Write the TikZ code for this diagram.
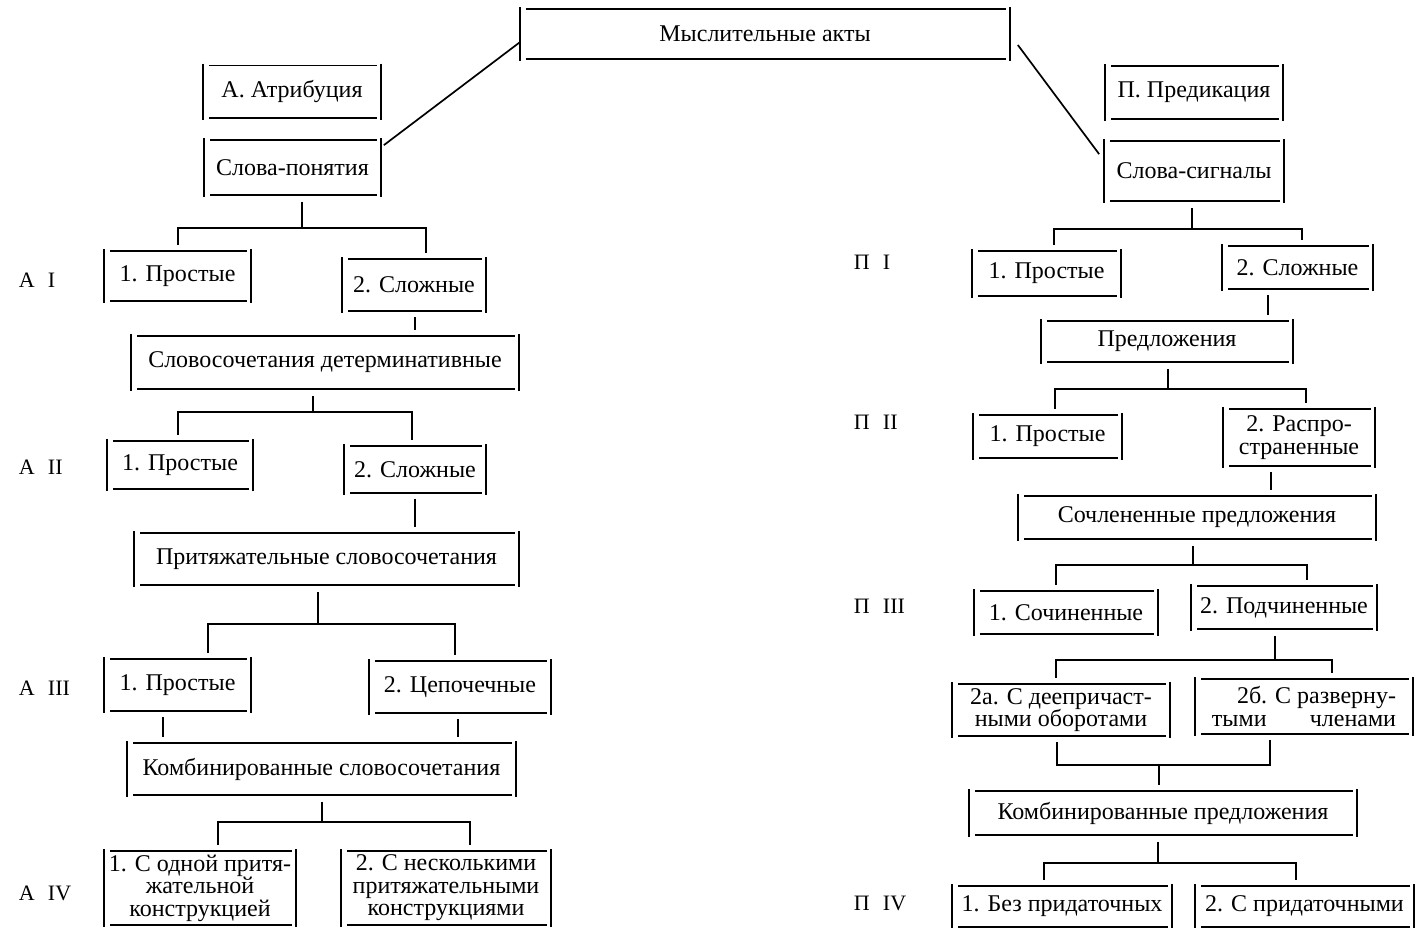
\documentclass[tikz,border=0pt]{standalone}
\usepackage{fontspec}
\setmainfont{Liberation Serif}
\usetikzlibrary{calc}
\newcommand\boxfont{\fontsize{24}{22.5}\selectfont}
\newcommand\mytree[7]{%
  \coordinate (#1-s) at (#2,#3);
  \coordinate (#1-l) at (#5,#3);
  \coordinate (#1-r) at (#7,#3);
  \draw ($(#1.south -| #1-s)+(0,5)$) -- (#1-s);
  \draw ($(#4.north -| #1-l)+(0,-4)$) -- (#1-l) -- (#1-r) -- ($(#6.north -| #1-r)+(0,-4)$);
}
\newcommand\mylink[4]{%
  \coordinate (#1) at (#2,0);
  \draw ($(#3.south -| #1)+(0,4)$) -- ($(#4.north -| #1)+(0,-4)$);
}
\begin{document}
\begin{tikzpicture}[x=1pt,y=-1pt,line width=1.7pt,
  brk/.style={inner sep=0pt, align=center, font=\boxfont,
    append after command={
      (\tikzlastnode.north west) edge (\tikzlastnode.south west)
      (\tikzlastnode.north east) edge (\tikzlastnode.south east)
      ([xshift=6pt,yshift=-2pt]\tikzlastnode.north west) edge ([xshift=-4pt,yshift=-2pt]\tikzlastnode.north east)
      ([xshift=6pt,yshift=2pt]\tikzlastnode.south west) edge ([xshift=-4pt,yshift=2pt]\tikzlastnode.south east)
    }},
  lvl/.style={font=\fontsize{22}{22}\selectfont, inner sep=0pt}]
\useasboundingbox (0,0) rectangle (1416,928);
% top
\node[brk, minimum width=488pt, minimum height=52pt] (ma) at (765,34) {Мыслительные акты};
% left column
\node[brk, minimum width=176pt, minimum height=55pt] (at) at (292,92) {А. Атрибуция};
\node[brk, minimum width=175pt, minimum height=57pt] (sp) at (292.5,167.5) {Слова-понятия};
\node[brk, minimum width=145pt, minimum height=52pt] (a1s) at (177.5,276) {1. Простые};
\node[brk, minimum width=142pt, minimum height=54pt] (a1c) at (414,285) {2. Сложные};
\node[brk, minimum width=386pt, minimum height=55pt] (sd) at (325,362.5) {Словосочетания детерминативные};
\node[brk, minimum width=144pt, minimum height=50pt] (a2s) at (180,465) {1. Простые};
\node[brk, minimum width=140pt, minimum height=49pt] (a2c) at (415,469.5) {2. Сложные};
\node[brk, minimum width=383pt, minimum height=54pt] (ps) at (326.5,559) {Притяжательные словосочетания};
\node[brk, minimum width=145pt, minimum height=54pt] (a3s) at (177.5,685) {1. Простые};
\node[brk, minimum width=180pt, minimum height=54pt] (a3c) at (460,687) {2. Цепочечные};
\node[brk, minimum width=387pt, minimum height=54pt] (ks) at (321.5,769) {Комбинированные словосочетания};
\node[brk, minimum width=190pt, minimum height=76pt] (a4s) at (200,888) {1. С одной притя-\\жательной\\конструкцией};
\node[brk, minimum width=208pt, minimum height=76pt] (a4c) at (446,888) {2. С несколькими\\притяжательными\\конструкциями};
% right column
\node[brk, minimum width=176pt, minimum height=55pt] (pr) at (1194,92.5) {П. Предикация};
\node[brk, minimum width=178pt, minimum height=62pt] (sg) at (1194,171) {Слова-сигналы};
\node[brk, minimum width=147pt, minimum height=47pt] (p1s) at (1046.5,273.5) {1. Простые};
\node[brk, minimum width=149pt, minimum height=45pt] (p1c) at (1297.5,267.5) {2. Сложные};
\node[brk, minimum width=250pt, minimum height=43pt] (pd) at (1167,341.5) {Предложения};
\node[brk, minimum width=147pt, minimum height=45pt] (p2s) at (1047.5,436.5) {1. Простые};
\node[brk, minimum width=150pt, minimum height=59pt] (p2c) at (1299,437.5) {2. Распро-\\страненные};
\node[brk, minimum width=356pt, minimum height=45pt] (sc) at (1197,517.5) {Сочлененные предложения};
\node[brk, minimum width=182pt, minimum height=45pt] (p3s) at (1066,612.5) {1. Сочиненные};
\node[brk, minimum width=184pt, minimum height=45pt] (p3c) at (1284,607.5) {2. Подчиненные};
\node[brk, minimum width=216pt, minimum height=54pt] (p3a) at (1061,710) {2а. С деепричаст-\\ными оборотами};
\node[brk, minimum width=216pt, minimum height=57pt, align=right] (p3b) at (1304,706.5) {2б. С разверну-\\тыми\hspace{1.8em}членами};
\node[brk, minimum width=386pt, minimum height=46pt] (kp) at (1163,813) {Комбинированные предложения};
\node[brk, minimum width=218pt, minimum height=43pt] (p4s) at (1062,906.5) {1. Без придаточных};
\node[brk, minimum width=217pt, minimum height=43pt] (p4c) at (1304.5,906.5) {2. С придаточными};
% level labels
\node[lvl, anchor=west] (la1) at (18,280) {А\hspace{0.6em}I};
\node[lvl, anchor=west] (la2) at (18,467) {А\hspace{0.6em}II};
\node[lvl, anchor=west] (la3) at (18,688) {А\hspace{0.6em}III};
\node[lvl, anchor=west] (la4) at (18,893) {А\hspace{0.6em}IV};
\node[lvl, anchor=west] (lp1) at (853,262) {П\hspace{0.6em}I};
\node[lvl, anchor=west] (lp2) at (853,422) {П\hspace{0.6em}II};
\node[lvl, anchor=west] (lp3) at (853,606) {П\hspace{0.6em}III};
\node[lvl, anchor=west] (lp4) at (853,903) {П\hspace{0.6em}IV};
% diagonal links
\draw ($(ma.west)+(0,8)$) -- ($(sp.north east)+(3,7)$);
\draw ($(ma.east)+(8,11)$) -- ($(sg.north west)+(-5,15)$);
% brackets
\mytree{sp}{302}{228}{a1s}{178}{a1c}{426}
\mytree{sd}{313}{412}{a2s}{178}{a2c}{412}
\mytree{ps}{318}{624}{a3s}{208}{a3c}{455}
\mytree{ks}{322}{822}{a4s}{218}{a4c}{470}
\mytree{sg}{1192}{229}{p1s}{1054}{p1c}{1302}
\mytree{pd}{1168}{389}{p2s}{1055}{p2c}{1306}
\mytree{sc}{1193}{565}{p3s}{1056}{p3c}{1307}
\mytree{p3c}{1275}{660}{p3a}{1056}{p3b}{1332}
\mytree{kp}{1158}{863}{p4s}{1044}{p4c}{1296}
% single links
\mylink{c1}{415}{a1c}{sd}
\mylink{c2}{415}{a2c}{ps}
\mylink{c3}{163}{a3s}{ks}
\mylink{c4}{458}{a3c}{ks}
\mylink{c5}{1268}{p1c}{pd}
\mylink{c6}{1271}{p2c}{sc}
% merge of 2a and 2b
\coordinate (m-l) at (1057,765);
\coordinate (m-r) at (1270,765);
\coordinate (m-s) at (1159,765);
\draw ($(p3a.south -| m-l)+(0,4)$) -- (m-l) -- (m-r) -- ($(p3b.south -| m-r)+(0,4)$);
\draw (m-s) -- ($(kp.north -| m-s)+(0,-4)$);
\end{tikzpicture}
\end{document}
